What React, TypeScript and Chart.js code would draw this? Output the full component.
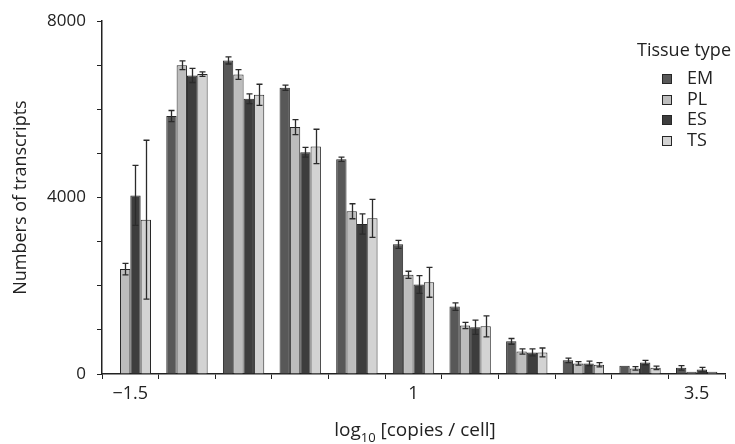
import React, { useEffect, useRef } from "react";
import { Chart, registerables } from "chart.js";

Chart.register(...registerables);

const categories = ["−1.5", "−1", "−0.5", "0", "0.5", "1", "1.5", "2", "2.5", "3", "3.5"];
const shownTickLabels = ["−1.5", "1", "3.5"];
const seriesNames = ["EM", "PL", "ES", "TS"];

const emValues = [null, 5850, 7110, 6490, 4870, 2940, 1530, 740, 310, 185, 140];
const plValues = [2380, 7000, 6790, 5600, 3690, 2250, 1100, 510, 240, 127, 50];
const esValues = [4050, 6770, 6240, 5030, 3400, 2030, 1060, 490, 240, 260, 100];
const tsValues = [3500, 6800, 6330, 5160, 3530, 2080, 1080, 490, 210, 140, 50];

const emErrors = [0, 125, 80, 60, 50, 90, 85, 65, 50, 0, 50];
const plErrors = [130, 100, 110, 170, 170, 80, 70, 60, 40, 40, 0];
const esErrors = [680, 160, 110, 110, 230, 200, 160, 80, 50, 50, 50];
const tsErrors = [1800, 50, 240, 390, 430, 340, 240, 100, 50, 40, 0];

const yTickValues = [0, 4000, 8000];

const seriesColors = ["#585858", "#bdbdbd", "#3d3d3d", "#d3d3d3"];
const FONT = "'Open Sans', 'Noto Sans', sans-serif";

const errorBarPlugin = {
  id: "errorBars",
  afterDatasetsDraw(chart: any) {
    const ctx = chart.ctx;
    const yScale = chart.scales.y;
    ctx.save();
    ctx.strokeStyle = "#2b2b2b";
    ctx.lineWidth = 1.3;
    chart.data.datasets.forEach((ds: any, i: number) => {
      const meta = chart.getDatasetMeta(i);
      meta.data.forEach((bar: any, j: number) => {
        const v = ds.data[j];
        const e = ds.errors[j];
        if (v == null || !e) return;
        const x = Math.round(bar.x) + 0.5;
        const yt = yScale.getPixelForValue(v + e);
        const yb = yScale.getPixelForValue(Math.max(0, v - e));
        const cap = 3;
        ctx.beginPath();
        ctx.moveTo(x, yt);
        ctx.lineTo(x, yb);
        ctx.moveTo(x - cap, yt);
        ctx.lineTo(x + cap, yt);
        ctx.moveTo(x - cap, yb);
        ctx.lineTo(x + cap, yb);
        ctx.stroke();
      });
    });
    ctx.restore();
  },
};

export default function App() {
  const canvasRef = useRef<HTMLCanvasElement | null>(null);

  useEffect(() => {
    document.body.style.margin = "0";
    document.body.style.background = "#ffffff";
    const values = [emValues, plValues, esValues, tsValues];
    const errors = [emErrors, plErrors, esErrors, tsErrors];
    const chart = new Chart(canvasRef.current as HTMLCanvasElement, {
      type: "bar",
      data: {
        labels: categories,
        datasets: seriesNames.map((name, i) => ({
          label: name,
          data: values[i] as any,
          errors: errors[i],
          backgroundColor: seriesColors[i],
          borderColor: "#262626",
          borderWidth: 1,
          categoryPercentage: 0.73,
          barPercentage: 1,
        })) as any,
      },
      options: {
        animation: false,
        responsive: false,
        devicePixelRatio: 1,
        layout: { padding: { left: 0, right: 10, top: 16, bottom: 0 } },
        plugins: {
          legend: { display: false },
          tooltip: { enabled: false },
        },
        scales: {
          x: {
            type: "category",
            offset: true,
            afterFit: (scale: any) => {
              scale.height = 70;
            },
            grid: {
              display: true,
              offset: true,
              drawOnChartArea: false,
              drawTicks: true,
              tickLength: 5,
              color: "#222",
              lineWidth: 1,
            },
            border: { display: true, color: "#222", width: 1.5 },
            ticks: {
              autoSkip: false,
              maxRotation: 0,
              padding: 4,
              color: "#222",
              font: { family: FONT, size: 18 },
              callback: (_v: any, idx: number) =>
                shownTickLabels.includes(categories[idx]) ? categories[idx] : "",
            },
          },
          y: {
            min: 0,
            max: 8000,
            afterFit: (scale: any) => {
              scale.width = 102;
            },
            grid: {
              display: true,
              drawOnChartArea: false,
              drawTicks: true,
              tickLength: 5,
              color: "#222",
              lineWidth: 1,
            },
            border: { display: true, color: "#222", width: 1.5 },
            ticks: {
              stepSize: 1000,
              padding: 11,
              color: "#222",
              font: { family: FONT, size: 17 },
              callback: (v: any) => (yTickValues.includes(Number(v)) ? String(v) : ""),
            },
            title: {
              display: true,
              text: "Numbers of transcripts",
              color: "#222",
              font: { family: FONT, size: 18 },
              padding: { top: 10, bottom: 0 },
            },
          },
        },
      },
      plugins: [errorBarPlugin],
    } as any);
    return () => chart.destroy();
  }, []);

  const legendTops = [68, 89, 109, 130];

  return (
    <div style={{ position: "relative", width: 735, height: 444, background: "#fff", fontFamily: FONT, color: "#222" }}>
      <canvas ref={canvasRef} width={735} height={444} style={{ display: "block" }} />
      <div style={{ position: "absolute", left: 637, top: 40, fontSize: 18, lineHeight: "18px", whiteSpace: "nowrap" }}>
        Tissue type
      </div>
      {seriesNames.map((name, i) => (
        <React.Fragment key={name}>
          <div
            style={{
              position: "absolute",
              left: 662,
              top: legendTops[i] + 6,
              width: 8,
              height: 8,
              background: seriesColors[i],
              border: "1px solid #262626",
            }}
          />
          <div style={{ position: "absolute", left: 687, top: legendTops[i], fontSize: 18, lineHeight: "18px", whiteSpace: "nowrap" }}>
            {name}
          </div>
        </React.Fragment>
      ))}
      <div
        style={{
          position: "absolute",
          left: 0,
          width: 830,
          top: 420,
          textAlign: "center",
          fontSize: 19,
          lineHeight: "19px",
          whiteSpace: "nowrap",
        }}
      >
        log<span style={{ fontSize: 13, verticalAlign: "-6px" }}>10</span> [copies / cell]
      </div>
    </div>
  );
}
